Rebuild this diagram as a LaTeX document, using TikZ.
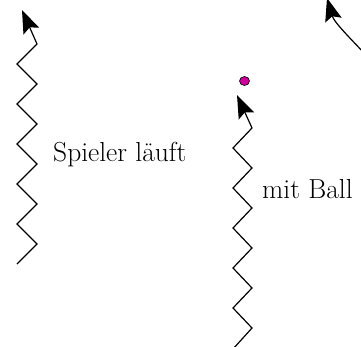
\documentclass[tikz,border=0pt]{standalone}
\usepackage{fontspec}
\usetikzlibrary{arrows.meta,shapes.geometric}
\definecolor{ballcol}{RGB}{204,0,153}
\begin{document}
\begin{tikzpicture}[x=1pt,y=-1pt,
  zig/.style={line width=1.2pt, line join=miter},
  bigtip/.style={-{Stealth[length=23pt,width=17pt,inset=4pt]}},
  lbl/.style={anchor=base west, inner sep=0pt, font=\fontsize{27.5}{32}\selectfont},
  ballnode/.style={ellipse, draw=black, line width=0.6pt, fill=ballcol, minimum width=10pt, minimum height=9pt, inner sep=0pt}]
\useasboundingbox (0,0) rectangle (361,347);
% tips
\coordinate (tipA) at (22,10);
\coordinate (tipB) at (237,95);
\coordinate (tipC) at (327,-2);
\coordinate (startA) at (17,264);
\coordinate (startB) at (233,349);
\coordinate (startC) at (365,54);
% left zigzag (player runs)
\draw[zig,bigtip] (startA) -- (37,244) -- (17,224) -- (37,204) -- (17,184) -- (37,164)
  -- (17,144) -- (37,124) -- (17,104) -- (37,84) -- (17,64) -- (37,44) -- (tipA);
% right zigzag (with ball)
\draw[zig,bigtip] (startB) -- (252,328) -- (233,308) -- (252,288) -- (233,268) -- (252,248)
  -- (233,228) -- (252,208) -- (233,188) -- (252,168) -- (233,148) -- (252,128) -- (tipB);
% ball
\node[ballnode] (ball) at (244.5,81) {};
% curved arrow top right
\draw[zig,bigtip] (startC) .. controls (348,36) and (334,22) .. (tipC);
% labels
\node[lbl] (lab1) at (53,162) {Spieler läuft};
\node[lbl] (lab2) at (262,199) {mit Ball};
\end{tikzpicture}
\end{document}
